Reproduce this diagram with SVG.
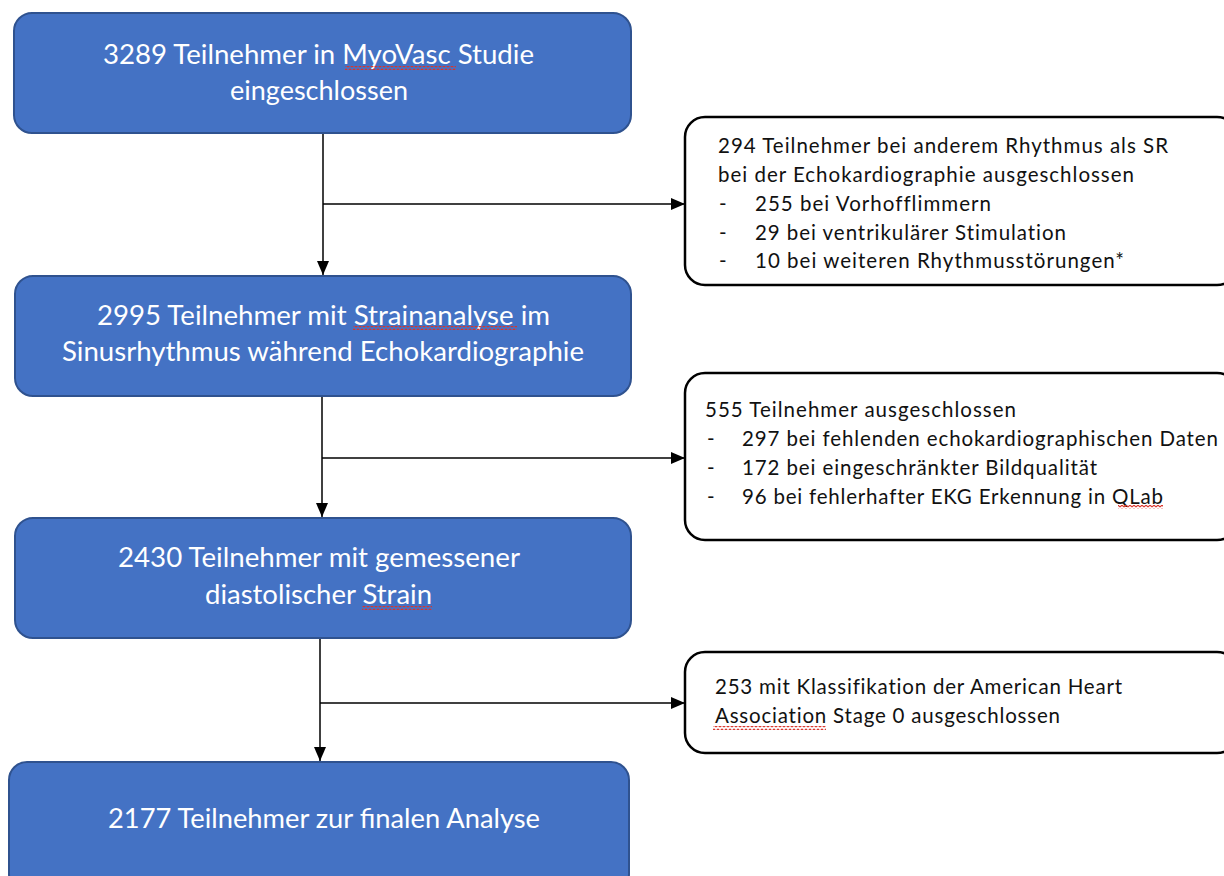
<svg xmlns="http://www.w3.org/2000/svg" width="1224" height="876" viewBox="0 0 1224 876">
<style>
.main{fill:#4472C4;stroke:#2F528F;stroke-width:2}
.side{fill:#ffffff;stroke:#000000;stroke-width:2.5}
.mt{font-family:Lato,"Open Sans",sans-serif;font-size:27px;fill:#ffffff;text-anchor:middle}
.st{font-family:Lato,"Open Sans",sans-serif;font-size:20.5px;fill:#111111;font-variant-ligatures:none}
.conn{stroke:#000000;stroke-width:1.5;fill:none}
</style>
<defs>
<marker id="arrB" viewBox="0 0 10 10" refX="10" refY="5" markerWidth="14" markerHeight="12" markerUnits="userSpaceOnUse" orient="auto" preserveAspectRatio="none">
<path d="M0 0 L10 5 L0 10 Z" fill="#000"/>
</marker>
<pattern id="sq" width="4" height="4" patternUnits="userSpaceOnUse">
<path d="M0 3 L2 1 L4 3" stroke="#d9342b" stroke-width="1.1" fill="none"/>
</pattern>
</defs>

<g id="connectors">
<path class="conn" d="M323 133 V275" marker-end="url(#arrB)"/>
<path class="conn" d="M323 204 H685" marker-end="url(#arrB)"/>
<path class="conn" d="M322 396 V517" marker-end="url(#arrB)"/>
<path class="conn" d="M322 458 H685" marker-end="url(#arrB)"/>
<path class="conn" d="M320 638 V761" marker-end="url(#arrB)"/>
<path class="conn" d="M320 703 H685" marker-end="url(#arrB)"/>
</g>

<g id="n1">
<rect class="main" x="14" y="13" width="617" height="120" rx="18"/>
<text class="mt" x="318.5" y="64" textLength="431" lengthAdjust="spacingAndGlyphs">3289 Teilnehmer in MyoVasc Studie</text>
<text class="mt" x="319" y="100" textLength="178" lengthAdjust="spacingAndGlyphs">eingeschlossen</text>
</g>
<g id="n2">
<rect class="main" x="15" y="276" width="616" height="120" rx="18"/>
<text class="mt" x="323.5" y="325" textLength="453" lengthAdjust="spacingAndGlyphs">2995 Teilnehmer mit Strainanalyse im</text>
<text class="mt" x="323" y="361" textLength="522" lengthAdjust="spacingAndGlyphs">Sinusrhythmus während Echokardiographie</text>
</g>
<g id="n3">
<rect class="main" x="15" y="518" width="616" height="120" rx="18"/>
<text class="mt" x="319" y="567" textLength="402" lengthAdjust="spacingAndGlyphs">2430 Teilnehmer mit gemessener</text>
<text class="mt" x="318.5" y="604" textLength="227" lengthAdjust="spacingAndGlyphs">diastolischer Strain</text>
</g>
<g id="n4">
<rect class="main" x="9" y="762" width="620" height="130" rx="18"/>
<text class="mt" x="324" y="828" textLength="432" lengthAdjust="spacingAndGlyphs">2177 Teilnehmer zur finalen Analyse</text>
</g>

<g id="s1">
<rect class="side" x="685" y="117" width="552" height="168" rx="20"/>
<text class="st" x="718" y="153" textLength="450" lengthAdjust="spacing">294 Teilnehmer bei anderem Rhythmus als SR</text>
<text class="st" x="718" y="182" textLength="416" lengthAdjust="spacing">bei der Echokardiographie ausgeschlossen</text>
<text class="st" x="719" y="211">-</text><text class="st" x="755" y="211" textLength="236" lengthAdjust="spacing">255 bei Vorhofflimmern</text>
<text class="st" x="719" y="240">-</text><text class="st" x="755" y="240" textLength="311" lengthAdjust="spacing">29 bei ventrikulärer Stimulation</text>
<text class="st" x="719" y="268">-</text><text class="st" x="755" y="268" textLength="369" lengthAdjust="spacing">10 bei weiteren Rhythmusstörungen*</text>
</g>
<g id="s2">
<rect class="side" x="685" y="373" width="552" height="167" rx="20"/>
<text class="st" x="705" y="417" textLength="311" lengthAdjust="spacing">555 Teilnehmer ausgeschlossen</text>
<text class="st" x="707" y="446">-</text><text class="st" x="742" y="446" textLength="476" lengthAdjust="spacing">297 bei fehlenden echokardiographischen Daten</text>
<text class="st" x="707" y="475">-</text><text class="st" x="742" y="475" textLength="355" lengthAdjust="spacing">172 bei eingeschränkter Bildqualität</text>
<text class="st" x="707" y="504">-</text><text class="st" x="742" y="504" textLength="421" lengthAdjust="spacing">96 bei fehlerhafter EKG Erkennung in QLab</text>
</g>
<g id="s3">
<rect class="side" x="685" y="652" width="552" height="101" rx="20"/>
<text class="st" x="715" y="694" textLength="407" lengthAdjust="spacing">253 mit Klassifikation der American Heart</text>
<text class="st" x="715" y="723" textLength="345" lengthAdjust="spacing">Association Stage 0 ausgeschlossen</text>
</g>

<g id="spellmarks">
<rect x="345" y="66" width="111" height="4" fill="url(#sq)"/>
<rect x="353" y="326" width="164" height="4" fill="url(#sq)"/>
<rect x="362" y="606" width="70" height="4" fill="url(#sq)"/>
<rect x="1118" y="505" width="45" height="4" fill="url(#sq)"/>
<rect x="713" y="726" width="113" height="4" fill="url(#sq)"/>
</g>
</svg>
